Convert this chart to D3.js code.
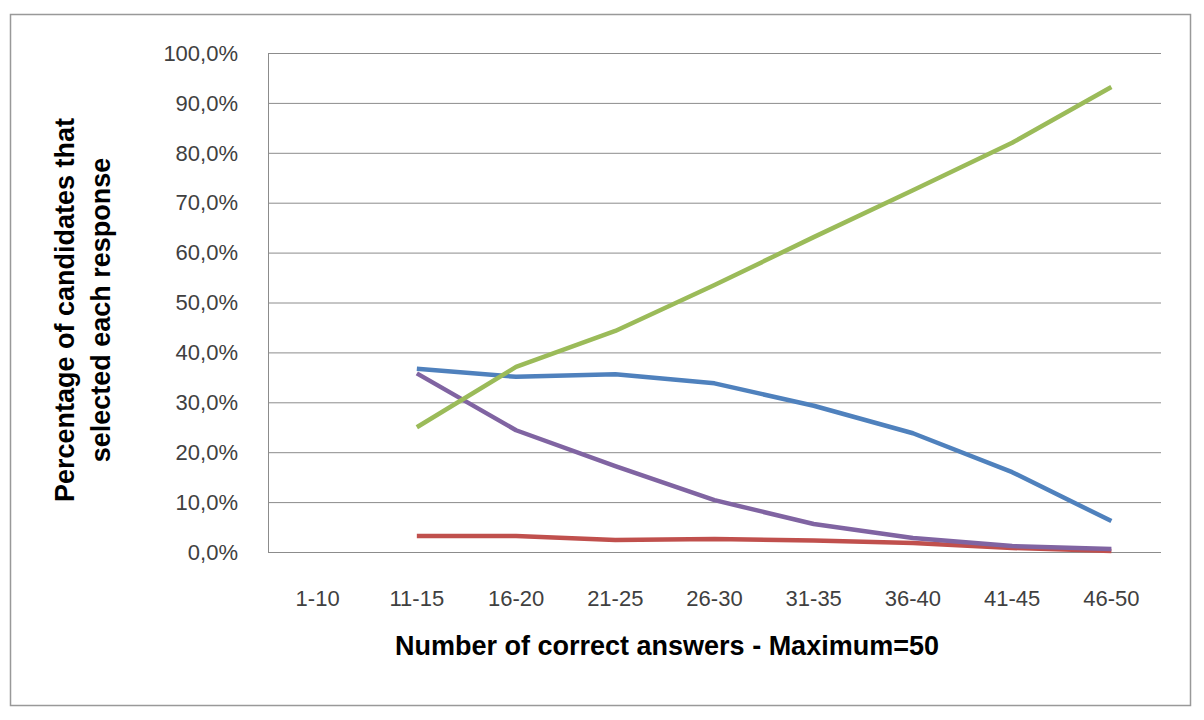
<!DOCTYPE html>
<html><head><meta charset="utf-8">
<script src="https://cdn.jsdelivr.net/npm/d3@7"></script>
<style>body{margin:0;background:#fff}svg{font-family:"Liberation Sans",Arial,sans-serif}</style>
</head><body><div id="chart"></div>
<script>
const categories = ["1-10","11-15","16-20","21-25","26-30","31-35","36-40","41-45","46-50"];
const yTicks = [0,10,20,30,40,50,60,70,80,90,100];
const blue   = [null,36.7,35.1,35.6,33.8,29.3,23.8,16.0,6.2];
const red    = [null,3.2,3.2,2.4,2.6,2.3,1.8,0.8,0.2];
const green  = [null,25.0,37.1,44.3,53.5,63.1,72.5,82.0,93.2];
const purple = [null,35.8,24.4,17.2,10.4,5.6,2.8,1.2,0.6];
const series = [
  {values: red, color: "#c0504d"},
  {values: purple, color: "#8064a2"},
  {values: blue, color: "#4f81bd"},
  {values: green, color: "#9bbb59"}
];

const W = 1204, H = 720;
const svg = d3.select("#chart").append("svg").attr("width", W).attr("height", H);
svg.append("rect").attr("x", 10.5).attr("y", 14.5).attr("width", 1180).attr("height", 691)
  .attr("fill", "#fff").attr("stroke", "#999").attr("stroke-width", 1.5);

const plotL = 268, plotR = 1161, plotT = 53, plotB = 552;
const x = d3.scaleBand().domain(categories).range([plotL, plotR]);
const y = d3.scaleLinear().domain([0, 100]).range([plotB, plotT]);

svg.append("g").selectAll("line").data(yTicks).join("line")
  .attr("x1", plotL).attr("x2", plotR).attr("y1", d => y(d) + 0.5).attr("y2", d => y(d) + 0.5)
  .attr("stroke", "#8c8c8c").attr("stroke-width", 1);
svg.append("line").attr("x1", plotL + 0.5).attr("x2", plotL + 0.5).attr("y1", plotT).attr("y2", plotB)
  .attr("stroke", "#8c8c8c");

svg.append("g").selectAll("text").data(yTicks).join("text")
  .attr("x", 238).attr("y", d => y(d)).attr("dy", "0.35em").attr("text-anchor", "end")
  .attr("font-size", 22).attr("fill", "#404040")
  .text(d => d.toFixed(1).replace(".", ",") + "%");

svg.append("g").selectAll("text").data(categories).join("text")
  .attr("x", d => x(d) + x.bandwidth() / 2).attr("y", 606).attr("text-anchor", "middle")
  .attr("font-size", 22).attr("fill", "#404040").text(d => d);

const line = d3.line().defined(d => d != null)
  .x((d, i) => x(categories[i]) + x.bandwidth() / 2).y(d => y(d));
svg.append("g").selectAll("path").data(series).join("path")
  .attr("d", s => line(s.values)).attr("fill", "none")
  .attr("stroke", s => s.color).attr("stroke-width", 4.5).attr("stroke-linejoin", "round");

svg.append("text").attr("x", 667).attr("y", 655).attr("text-anchor", "middle")
  .attr("font-size", 27).attr("font-weight", "bold").text("Number of correct answers - Maximum=50");
const yt = svg.append("text").attr("transform", "translate(0,310) rotate(-90)")
  .attr("text-anchor", "middle").attr("font-size", 27).attr("font-weight", "bold");
yt.append("tspan").attr("x", 0).attr("y", 74).text("Percentage of candidates that");
yt.append("tspan").attr("x", 0).attr("y", 110).text("selected each response");
</script></body></html>
